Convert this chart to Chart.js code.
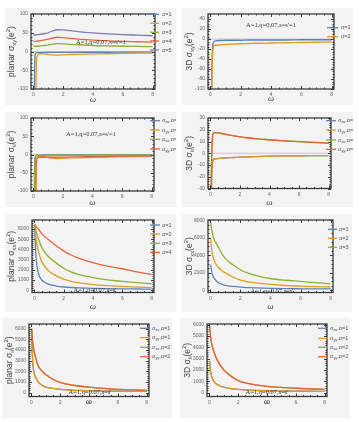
<!DOCTYPE html>
<html>
<head>
<meta charset="utf-8">
<script src="https://cdn.jsdelivr.net/npm/chart.js@4/dist/chart.umd.min.js"></script>
<style>
  body { margin: 0; background: #fff; }
  #wrap { position: relative; width: 359px; height: 422px; overflow: hidden; }
  .panel { position: absolute; background: #f3f3f3; }
</style>
</head>
<body>
<div id="wrap"></div>
<script>
// omega grids
const omegaA = [0, 0.05, 0.08, 0.12, 0.16, 0.2, 0.25, 0.3, 0.5, 0.75, 1, 1.3, 1.6, 2, 2.5, 3, 4, 5, 6, 7, 8];
const omegaB = [0.02, 0.05, 0.1, 0.15, 0.2, 0.3, 0.4, 0.5, 0.75, 1, 1.5, 2, 2.5, 3, 4, 5, 6, 7, 8];
const xTicks = [0, 2, 4, 6, 8];

// planar sigma_xy, alpha = 1..5
const pXyA1 = [-3000, -300, -60, -8, -4, -3, -3, -3, -3, -3, -2.5, -2.5, -2.5, -2.5, -2.5, -2, -2, -2, -1.5, -1.5, -1.5];
const pXyA2 = [-5000, -2000, -800, -300, -120, -30, -12, -8, -6, -7, -8, -9, -9.5, -9, -8, -7.5, -6.5, -6, -5, -4.5, -4];
const pXyA3 = [14, 14, 14, 14, 14, 14, 14, 14, 15, 16, 17.5, 19.5, 21, 20.5, 19, 18, 16, 15, 14, 13.5, 13];
const pXyA4 = [27, 27, 27, 27, 27, 27, 27.5, 28, 29, 31, 33, 36, 38, 37, 35, 33, 30.5, 28.5, 27, 26, 25];
const pXyA5 = [44, 44, 44, 44, 44, 44, 44.5, 45, 46, 48, 50, 55, 58, 57.5, 55.5, 53, 49.5, 47, 45, 43.5, 42];

// 3D sigma_xy, alpha = 1, 2
const dXyA1 = [-3000, -400, -100, -30, -12, -7, -5, -4, -3, -3, -2.5, -2.5, -2.5, -2.5, -2, -2, -2, -2, -1.5, -1.5, -1.5];
const dXyA2 = [-5000, -800, -200, -60, -25, -16, -13, -12.5, -12, -11.5, -11, -10.5, -10, -9.5, -9, -8.5, -8, -7.5, -7, -6.5, -6];

// planar sigma_ii
const pXxA1 = [-3000, -300, -60, -8, -3, -2, -1.5, -1.5, -1.5, -1, -1, -1, -1, -1, -1, -1, -1, -1, -1, -1, -1];
const pYyA1 = [-5000, -2000, -800, -300, -120, -30, -10, -6, -5, -6, -8, -10, -11, -10.5, -9.5, -9, -8, -7, -6, -5.5, -5];
const pXxA2 = [-3000, -500, -100, -20, -6, -3, -2.5, -2, -2, -2, -2, -2, -2, -2, -2, -2, -2, -1.5, -1.5, -1.5, -1.5];
const pYyA2 = [-6000, -3000, -1000, -300, -100, -20, -9, -8, -7.5, -7.5, -7.5, -7.5, -7.5, -7, -7, -6.5, -6, -5.5, -5, -4.5, -4];

// 3D sigma_ii
const dXxA1 = [-500, -100, -30, -12, -7, -5.5, -5, -4.8, -4.5, -4.2, -4, -3.8, -3.6, -3.3, -3, -2.8, -2.5, -2.3, -2.2, -2.1, -2];
const dYyA1 = [-500, -100, -30, -12, -7, -5.5, -5, -4.8, -4.5, -4.2, -4, -3.8, -3.6, -3.3, -3, -2.8, -2.5, -2.3, -2.2, -2.1, -2];
const dXxA2 = [-500, -60, -10, 10, 15.5, 17, 17.5, 17.6, 17.3, 16.8, 16.2, 15.5, 14.8, 14, 13.2, 12.5, 11.5, 10.6, 9.9, 9.2, 8.6];
const dYyA2 = [-500, -60, -10, 10, 15.5, 17, 17.5, 17.6, 17.3, 16.8, 16.2, 15.5, 14.8, 14, 13.2, 12.5, 11.5, 10.6, 9.9, 9.2, 8.6];

// planar sigma_xx, alpha = 1..4
const pSxA1 = [6400, 5200, 3600, 2700, 2150, 1550, 1200, 1000, 720, 560, 400, 310, 260, 225, 180, 150, 130, 115, 100];
const pSxA2 = [6400, 6000, 5300, 4700, 4300, 3700, 3200, 2800, 2250, 1850, 1400, 1080, 870, 730, 550, 440, 370, 300, 250];
const pSxA3 = [6400, 6200, 5900, 5600, 5350, 4950, 4550, 4200, 3650, 3230, 2650, 2150, 1800, 1550, 1230, 1000, 860, 730, 620];
const pSxA4 = [6450, 6400, 6300, 6200, 6100, 5950, 5750, 5550, 5200, 4920, 4350, 3850, 3450, 3150, 2700, 2350, 2100, 1800, 1540];

// 3D sigma_xx, alpha = 1..3
const dSxA1 = [2900, 2500, 2000, 1700, 1500, 1250, 1050, 900, 680, 540, 420, 340, 290, 250, 200, 170, 155, 145, 140];
const dSxA2 = [5800, 5200, 4500, 4000, 3650, 3200, 2900, 2650, 2250, 1970, 1500, 1150, 950, 820, 650, 530, 460, 400, 360];
const dSxA3 = [7700, 7300, 6800, 6400, 6050, 5600, 5300, 5000, 4200, 3600, 2900, 2330, 1950, 1700, 1330, 1130, 1000, 850, 720];

// planar / 3D sigma_ii (large omega range)
const pIiA1 = [6000, 4300, 2900, 2200, 1800, 1450, 1150, 950, 680, 500, 380, 290, 240, 210, 170, 140, 125, 115, 110];
const pIiA2 = [6000, 5400, 4700, 4200, 3800, 3300, 2800, 2450, 2000, 1700, 1250, 950, 780, 660, 500, 380, 300, 240, 200];
const dIiA1 = [2800, 2300, 1800, 1500, 1300, 1030, 870, 750, 580, 470, 350, 280, 230, 200, 160, 140, 125, 115, 110];
const dIiA2 = [5900, 5400, 4800, 4400, 4100, 3700, 3300, 3000, 2450, 2010, 1450, 1050, 850, 720, 550, 450, 380, 320, 280];

const alphaLabels = ["α=1", "α=2", "α=3", "α=4", "α=5"];
const noteTop = "A=1,q=0.07,s=s'=1";
const noteBottom = "A=1,q=0.07,s=s'";

const BLUE = "#5e81b5", ORANGE = "#e19c24", GREEN = "#8fb032", RED = "#eb6235", PURPLE = "#8778b3";

// legend labels with subscripts: [text, "sub"|"sup"|undefined]
const iiLegend = [
  [["σ"], ["xx", "sub"], [",α=1"]],
  [["σ"], ["yy", "sub"], [",α=1"]],
  [["σ"], ["xx", "sub"], [",α=2"]],
  [["σ"], ["yy", "sub"], [",α=2"]]
];
const alphaLegend = alphaLabels.map(t => [[t]]);
function yTitle(prefix, sub) {
  return [[prefix + " σ"], [sub, "sub"], ["(e"], ["2", "sup"], [")"]];
}

const panels = [
  { box: [5, 8, 176, 105], frame: [31, 10.5, 155, 89], y: [-100, 100], yTicks: [-100, -50, 0, 50, 100], yMinor: 10,
    x: omegaA, series: [pXyA1, pXyA2, pXyA3, pXyA4, pXyA5], colors: [BLUE, ORANGE, GREEN, RED, PURPLE],
    legend: alphaLegend.slice(0, 5), leg: [150, 159, 162, [14.3, 23.3, 32.3, 41, 50]],
    title: yTitle("planar", "xy"), titleX: 12, xTitleY: 100, note: noteTop, noteAt: [101, 42.5], zero: true },
  { box: [182, 8, 353, 105], frame: [208, 10, 334, 89], y: [-100, 50], yTicks: [-100, -80, -60, -40, -20, 0, 20, 40], yMinor: 5,
    x: omegaA, series: [dXyA1, dXyA2], colors: [BLUE, ORANGE],
    legend: alphaLegend.slice(0, 2), leg: [327, 338, 341, [27.7, 36.7]],
    title: yTitle("3D", "xy"), titleX: 190, xTitleY: 99, note: noteTop, noteAt: [271, 25], zero: true },
  { box: [5, 112, 176, 207], frame: [31, 112.5, 154, 191], y: [-100, 100], yTicks: [-100, -50, 0, 50, 100], yMinor: 10,
    x: omegaA, series: [pXxA1, pYyA1, pXxA2, pYyA2], colors: [BLUE, ORANGE, GREEN, RED],
    legend: iiLegend, leg: [150, 160, 162, [120.7, 130, 139.3, 149]],
    title: yTitle("planar", "ii"), titleX: 12, xTitleY: 203, note: noteTop, noteAt: [91, 134], zero: true },
  { box: [182, 112, 353, 207], frame: [208, 115, 331, 188.5], y: [-30, 30], yTicks: [-30, -20, -10, 0, 10, 20, 30], yMinor: 2,
    x: omegaA, series: [dXxA1, dYyA1, dXxA2, dYyA2], colors: [BLUE, ORANGE, GREEN, RED],
    legend: iiLegend, leg: [326, 336, 338, [120.7, 130, 140, 149.3]],
    title: yTitle("3D", "ii"), titleX: 190, xTitleY: 203, note: null, zero: true },
  { box: [5, 214, 176, 312], frame: [32, 215.5, 154, 292.5], y: [-230, 6880], yTicks: [0, 1000, 2000, 3000, 4000, 5000, 6000], yMinor: 200,
    x: omegaB, series: [pSxA1, pSxA2, pSxA3, pSxA4], colors: [BLUE, ORANGE, GREEN, RED],
    legend: alphaLegend.slice(0, 4), leg: [150, 160, 162, [225, 234, 243.3, 252.3]],
    title: yTitle("planar", "xx"), titleX: 12, xTitleY: 306.5, note: noteBottom, noteAt: [95, 290], zero: false },
  { box: [182, 214, 352, 312], frame: [208, 215.5, 333, 292.5], y: [-270, 8020], yTicks: [0, 2000, 4000, 6000, 8000], yMinor: 500,
    x: omegaB, series: [dSxA1, dSxA2, dSxA3], colors: [BLUE, ORANGE, GREEN],
    legend: alphaLegend.slice(0, 3), leg: [328, 337, 339, [229.3, 238.3, 247.3]],
    title: yTitle("3D", "xx"), titleX: 190, xTitleY: 306.5, note: noteBottom, noteAt: [272, 291], zero: false },
  { box: [2, 318, 172, 418], frame: [29, 320, 149, 396.5], y: [-375, 6445], yTicks: [0, 1000, 2000, 3000, 4000, 5000, 6000], yMinor: 200,
    x: omegaB, series: [pIiA1, pIiA1, pIiA2, pIiA2], colors: [BLUE, ORANGE, GREEN, RED],
    legend: iiLegend, leg: [140, 150, 152, [328.3, 337.7, 347.3, 356.7]],
    title: yTitle("planar", "ii"), titleX: 10, xTitleY: 402, note: noteBottom, noteAt: [90, 392], zero: false },
  { box: [180, 318, 350, 418], frame: [207, 320, 327, 396.5], y: [-350, 6060], yTicks: [0, 1000, 2000, 3000, 4000, 5000, 6000], yMinor: 200,
    x: omegaB, series: [dIiA1, dIiA1, dIiA2, dIiA2], colors: [BLUE, ORANGE, GREEN, RED],
    legend: iiLegend, leg: [318, 328, 330, [328.3, 338.3, 347.3, 356.7]],
    title: yTitle("3D", "ii"), titleX: 188, xTitleY: 402, note: noteBottom, noteAt: [267, 392], zero: false }
];

// draw text made of pieces, some as sub/superscripts
function richWidth(ctx, parts, size, family) {
  let w = 0;
  parts.forEach(p => {
    ctx.font = (p[1] ? size * 0.7 : size) + "px " + family;
    w += ctx.measureText(p[0]).width;
  });
  return w;
}
function drawRich(ctx, parts, x, y, size, family) {
  parts.forEach(p => {
    const s = p[1] ? size * 0.7 : size;
    ctx.font = s + "px " + family;
    let dy = 0;
    if (p[1] === "sub") dy = size * 0.3;
    if (p[1] === "sup") dy = -size * 0.4;
    ctx.fillText(p[0], x, y + dy);
    x += ctx.measureText(p[0]).width;
  });
}

const framePlugin = {
  id: "frame",
  beforeDatasetsDraw(chart, args, o) {
    if (!o.zero) return;
    const { ctx, chartArea: a } = chart;
    const y0 = chart.scales.y.getPixelForValue(0);
    ctx.save();
    ctx.strokeStyle = "#c8c8c8";
    ctx.lineWidth = 1;
    ctx.beginPath();
    ctx.moveTo(a.left, y0);
    ctx.lineTo(a.right, y0);
    ctx.stroke();
    ctx.restore();
  },
  afterDatasetsDraw(chart, args, o) {
    const { ctx, chartArea: a } = chart;
    const xs = chart.scales.x, ys = chart.scales.y;
    ctx.save();
    ctx.strokeStyle = "#3a3a3a";
    ctx.lineWidth = 1;
    // minor / major ticks, inward on all four sides
    ctx.beginPath();
    for (let v = 0; v <= 8.001; v += 0.5) {
      const px = Math.round(xs.getPixelForValue(v)) + 0.5;
      const len = Math.abs(v % 2) < 1e-6 ? 3 : 1.5;
      ctx.moveTo(px, a.bottom); ctx.lineTo(px, a.bottom - len);
      ctx.moveTo(px, a.top); ctx.lineTo(px, a.top + len);
    }
    const major = o.yTicks[1] - o.yTicks[0];
    for (let v = o.yTicks[0]; v <= ys.max; v += o.yMinor) {
      if (v < ys.min) continue;
      const py = Math.round(ys.getPixelForValue(v)) + 0.5;
      const r = Math.abs((v - o.yTicks[0]) % major);
      const len = r < 1e-6 ? 3 : 1.5;
      ctx.moveTo(a.left, py); ctx.lineTo(a.left + len, py);
      ctx.moveTo(a.right, py); ctx.lineTo(a.right - len, py);
    }
    ctx.stroke();
    ctx.lineWidth = 1.3;
    ctx.strokeRect(a.left, a.top, a.right - a.left, a.bottom - a.top);
    ctx.restore();
  },
  afterDraw(chart, args, o) {
    const { ctx, chartArea: a } = chart;
    const bx = o.box[0], by = o.box[1];
    ctx.save();
    ctx.fillStyle = "#444";
    ctx.textBaseline = "middle";
    // y title, rotated
    const fam = "'Liberation Sans', Arial, sans-serif";
    const tw = richWidth(ctx, o.title, 8.5, fam);
    ctx.save();
    ctx.translate(o.titleX - bx, (a.top + a.bottom) / 2);
    ctx.rotate(-Math.PI / 2);
    drawRich(ctx, o.title, -tw / 2, 0, 8.5, fam);
    ctx.restore();
    // x title
    ctx.textAlign = "center";
    ctx.font = "italic 9px 'Liberation Serif', serif";
    ctx.fillText("ω", (a.left + a.right) / 2, o.xTitleY - by);
    // note
    if (o.note) {
      ctx.fillStyle = "#333";
      ctx.font = "6.5px 'Liberation Serif', serif";
      ctx.fillText(o.note, o.noteAt[0] - bx, o.noteAt[1] - by);
    }
    // legend
    ctx.textAlign = "left";
    ctx.fillStyle = "#555";
    o.legend.forEach((lab, i) => {
      const ly = o.leg[3][i] - by;
      ctx.strokeStyle = o.colors[i];
      ctx.lineWidth = 1.3;
      ctx.beginPath();
      ctx.moveTo(o.leg[0] - bx, ly);
      ctx.lineTo(o.leg[1] - bx, ly);
      ctx.stroke();
      drawRich(ctx, lab, o.leg[2] - bx, ly, 5.5, fam);
    });
    ctx.restore();
  }
};

const wrap = document.getElementById("wrap");

panels.forEach(p => {
  const [bx0, by0, bx1, by1] = p.box;
  const w = bx1 - bx0, h = by1 - by0;
  const div = document.createElement("div");
  div.className = "panel";
  div.style.left = bx0 + "px";
  div.style.top = by0 + "px";
  div.style.width = w + "px";
  div.style.height = h + "px";
  const canvas = document.createElement("canvas");
  canvas.width = w;
  canvas.height = h;
  div.appendChild(canvas);
  wrap.appendChild(div);

  const n = p.series.length;
  const datasets = p.series.map((vals, i) => ({
    label: "s" + i,
    data: p.x.map((xv, k) => ({ x: xv, y: vals[k] })),
    borderColor: p.colors[i],
    borderWidth: 1.3,
    pointRadius: 0,
    cubicInterpolationMode: "monotone",
    order: n - i
  }));

  const tickFont = { size: 5, family: "'Liberation Sans', Arial, sans-serif" };
  const yW = p.frame[0] - bx0;
  const xH = by1 - p.frame[3];

  new Chart(canvas, {
    type: "line",
    data: { datasets },
    options: {
      responsive: false,
      animation: false,
      devicePixelRatio: 1,
      layout: {
        padding: { left: 0, top: p.frame[1] - by0, right: bx1 - p.frame[2], bottom: 0 }
      },
      scales: {
        x: {
          type: "linear",
          min: -0.16,
          max: 8.16,
          afterFit(s) { s.height = xH; },
          afterBuildTicks(s) { s.ticks = xTicks.map(v => ({ value: v })); },
          grid: { display: false, drawTicks: false },
          border: { display: false },
          ticks: { font: tickFont, color: "#666", padding: 3, maxRotation: 0, autoSkip: false,
                   callback: v => String(v) }
        },
        y: {
          type: "linear",
          min: p.y[0],
          max: p.y[1],
          afterFit(s) { s.width = yW; },
          afterBuildTicks(s) { s.ticks = p.yTicks.map(v => ({ value: v })); },
          grid: { display: false, drawTicks: false },
          border: { display: false },
          ticks: { font: tickFont, color: "#666", padding: 3, autoSkip: false,
                   callback: v => String(v) }
        }
      },
      plugins: {
        legend: { display: false },
        tooltip: { enabled: false },
        frame: p
      }
    },
    plugins: [framePlugin]
  });
});
</script>
</body>
</html>
